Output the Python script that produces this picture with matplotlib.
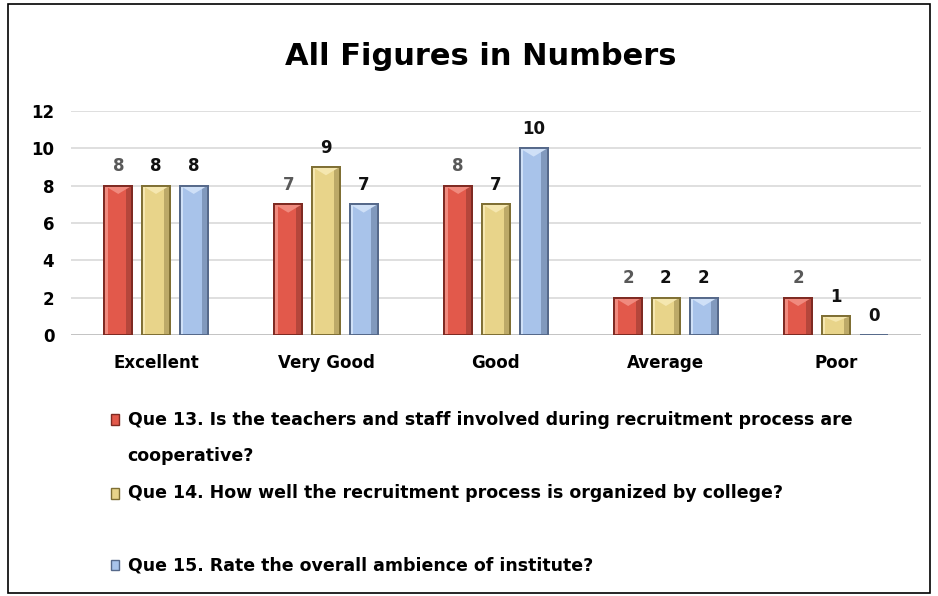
import matplotlib.pyplot as plt
import numpy as np
from matplotlib.patches import Rectangle, Polygon

# data
categories = ['Excellent', 'Very Good', 'Good', 'Average', 'Poor']
que13 = [8, 7, 8, 2, 2]
que14 = [8, 9, 7, 2, 1]
que15 = [8, 7, 10, 2, 0]
series_names = ['Que 13. Is the teachers and staff involved during recruitment process are\ncooperative?',
                'Que 14. How well the recruitment process is organized by college?',
                'Que 15. Rate the overall ambience of institute?']

colors = ['#E2594B', '#E8D48A', '#A8C3EA']
edges = ['#7E2A22', '#7F6F34', '#56698A']
light = ['#F08A7E', '#F5E7B0', '#CFE0F7']
dark = ['#B5463B', '#BCA968', '#8199BD']
label_colors = ['#595959', '#111111', '#111111']

fig = plt.figure(figsize=(9.38, 5.96), dpi=100)
ax = fig.add_axes([0.0757, 0.438, 0.906, 0.376])

x = np.arange(len(categories))
w = 0.164
step = 0.222
for k, vals in enumerate([que13, que14, que15]):
    pos = x + (k - 1) * step
    bars = ax.bar(pos, vals, width=w, color=colors[k], edgecolor=edges[k], linewidth=1.4, zorder=3)
    for b, v in zip(bars, vals):
        x0, x1 = b.get_x(), b.get_x() + b.get_width()
        if v > 0:
            # simple bevel look: darker right side, light wedge on top
            ax.add_patch(Rectangle((x1 - w * 0.22, 0), w * 0.22, v, facecolor=dark[k],
                                   edgecolor='none', zorder=3.5))
            ax.add_patch(Rectangle((x0, 0), w * 0.12, v, facecolor=light[k],
                                   edgecolor='none', zorder=3.5))
            d = min(0.45, v * 0.3)
            ax.add_patch(Polygon([(x0, v), (x1, v), ((x0 + x1) / 2, v - d)], closed=True,
                                 facecolor=light[k], edgecolor='none', zorder=3.6))
            ax.add_patch(Rectangle((x0, 0), w, v, fill=False, edgecolor=edges[k],
                                   linewidth=1.4, zorder=3.7))
        ax.text((x0 + x1) / 2, v + 0.55, str(v), ha='center', va='bottom',
                fontsize=12, fontweight='bold', color=label_colors[k])

ax.set_xlim(-0.5, len(categories) - 0.5)
ax.set_ylim(0, 12)
ax.set_yticks(range(0, 13, 2))
ax.grid(axis='y', color='#D9D9D9', linewidth=1.2, zorder=0)
for s in ax.spines.values():
    s.set_visible(False)
ax.axhline(0, color='#BFBFBF', linewidth=1.2, zorder=2)
ax.tick_params(length=0)
ax.tick_params(axis='x', pad=14)
ax.tick_params(axis='y', pad=12)
ax.set_xticks(x)
ax.set_xticklabels(categories, fontsize=12, fontweight='bold')
for t in ax.get_yticklabels():
    t.set_fontsize(12)
    t.set_fontweight('bold')

fig.text(0.512, 0.905, 'All Figures in Numbers', ha='center', va='center',
         fontsize=22, fontweight='bold')

# legend drawn by hand, one row per question
legend_y = [0.296, 0.172, 0.052]
for k in range(3):
    fig.patches.append(Rectangle((0.118, legend_y[k] - 0.009), 0.009, 0.018,
                                 transform=fig.transFigure, facecolor=colors[k],
                                 edgecolor=edges[k], linewidth=1))
    fig.text(0.136, legend_y[k], series_names[k], ha='left', va='center' if k else 'top',
             fontsize=12.5, fontweight='bold', linespacing=2.3)
# fix the two-line entry so its first line sits on the marker
fig.texts[-3].set_position((0.136, legend_y[0] + 0.014))

fig.patches.append(Rectangle((0.008, 0.005), 0.984, 0.988, transform=fig.transFigure,
                             fill=False, edgecolor='black', linewidth=1.2))

fig.savefig('out.png', dpi=100)
